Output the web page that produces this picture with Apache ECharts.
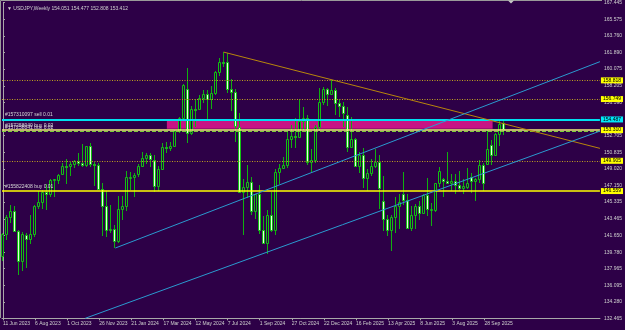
<!DOCTYPE html>
<html><head><meta charset="utf-8">
<script src="https://cdn.jsdelivr.net/npm/echarts@6/dist/echarts.min.js"></script>
<style>html,body{margin:0;padding:0;background:#2d0047;}#c{width:625px;height:330px;}</style>
</head><body><div id="c"></div><script>
// ---- data ----
const symbolName = 'USDJPY,Weekly';
const tickIndex = [0,8,16,24,32,40,48,56,64,72,80,88,96,104,112,120];
const tickDates = ['11 Jun 2023','6 Aug 2023','1 Oct 2023','26 Nov 2023','21 Jan 2024','17 Mar 2024','12 May 2024','7 Jul 2024','1 Sep 2024','27 Oct 2024','22 Dec 2024','16 Feb 2025','13 Apr 2025','8 Jun 2025','3 Aug 2025','28 Sep 2025'];
const priceTicks = [167.445,165.575,163.760,161.890,160.075,158.205,156.390,154.520,152.705,150.835,149.020,147.150,145.335,143.465,141.650,139.780,137.965,136.095,134.280,132.465];
const opens = [139.4,141.8,143.7,144.4,142.1,138.8,141.7,141.2,141.8,144.9,145.4,146.4,146.2,147.8,147.8,148.4,149.35,149.3,149.55,149.85,149.65,149.4,151.5,149.6,149.4,146.8,144.9,142.2,142.4,141.0,144.6,144.9,148.1,148.15,148.4,149.3,150.2,150.5,150.05,147.1,149.0,151.4,151.35,151.6,153.25,154.6,157.9,152.95,155.7,155.6,156.9,157.3,156.75,157.4,159.8,160.9,160.8,157.9,157.5,153.7,146.5,147.0,147.6,144.4,146.2,142.3,140.85,143.95,142.2,148.7,149.15,149.5,152.3,152.7,152.6,154.3,154.7,149.8,150.0,153.6,156.4,157.9,157.3,157.7,156.3,156.0,155.0,151.4,152.3,149.3,150.6,148.0,148.6,149.3,149.8,145.5,143.5,142.2,143.7,144.95,146.2,145.6,142.5,143.9,144.85,144.1,146.1,144.45,144.5,147.4,147.9,147.7,147.4,147.7,147.2,146.9,147.0,148.1,147.7,147.95,149.5,149.6,151.7,150.6,152.9,154.051];
const highs = [141.9,143.87,145.07,144.9,142.2,142.0,141.95,143.88,145.0,146.56,146.64,147.37,147.87,147.95,148.46,149.71,150.16,149.83,150.0,150.78,151.72,151.6,151.92,149.75,149.7,147.45,146.6,144.96,142.8,145.97,146.0,148.8,148.7,148.6,149.6,150.89,150.8,150.8,150.5,149.3,151.86,151.97,151.95,153.3,154.8,158.4,160.2,155.95,156.8,157.2,157.7,157.7,158.2,159.9,161.27,161.95,161.8,159.0,157.85,155.2,147.9,149.4,148.1,146.25,147.2,143.75,144.5,146.5,149.0,149.6,150.3,153.18,153.9,154.7,156.75,155.9,155.0,151.2,153.9,157.93,158.08,158.0,158.87,158.0,156.75,156.4,155.9,154.8,152.4,150.9,151.3,149.0,150.15,151.2,150.5,148.2,143.9,143.9,145.9,146.2,148.65,146.2,144.9,145.1,145.5,146.2,148.0,145.2,147.5,149.2,148.0,150.9,148.5,148.5,148.8,147.9,149.1,148.6,148.0,149.95,149.7,153.27,152.2,153.0,154.45,154.477];
const lows = [138.8,141.1,143.0,142.1,137.24,137.68,138.05,140.7,141.5,144.6,144.55,144.44,145.9,145.91,147.3,148.3,147.3,148.2,149.1,149.3,149.2,149.2,149.2,147.15,146.67,141.6,141.5,141.9,140.25,140.8,143.4,144.3,146.65,145.9,148.1,149.2,149.6,149.2,146.48,146.6,148.9,150.8,151.0,151.5,153.0,154.5,151.86,152.8,153.6,155.5,156.35,154.55,155.7,157.2,159.3,160.3,157.4,155.4,151.95,146.4,141.68,145.8,143.9,143.45,141.75,140.7,139.58,142.0,141.65,147.35,148.95,149.1,151.3,151.3,152.5,153.3,149.5,148.65,149.7,153.2,156.1,156.0,157.25,154.97,154.8,153.7,150.9,151.3,149.25,148.6,146.9,146.54,148.2,149.1,144.55,142.1,141.6,139.89,141.9,142.35,145.0,142.4,142.1,142.4,143.4,144.0,143.8,142.7,144.2,147.0,145.85,147.3,146.6,146.2,146.6,146.2,146.8,146.3,145.5,147.5,146.6,149.4,149.4,150.4,151.55,152.808];
const closes = [141.8,143.7,144.3,142.1,138.8,141.8,141.2,141.75,144.95,145.4,146.4,146.2,147.8,147.85,148.37,149.35,149.3,149.55,149.85,149.65,149.4,151.5,149.6,149.4,146.8,144.9,142.2,142.4,141.0,144.6,144.9,148.1,148.15,148.37,149.3,150.2,150.5,150.1,147.1,149.0,151.4,151.35,151.6,153.25,154.6,158.3,152.95,155.7,155.6,156.9,157.3,156.75,157.4,159.8,160.87,160.75,157.9,157.5,153.75,146.5,147.0,147.6,144.4,146.2,142.3,140.85,143.95,142.2,148.7,149.15,149.5,152.3,152.7,152.6,154.3,154.7,149.8,150.0,153.6,156.4,157.9,157.3,157.7,156.3,156.0,155.2,151.4,152.3,149.3,150.6,148.0,148.6,149.3,149.8,146.9,143.5,142.2,143.7,144.95,145.3,145.6,142.5,143.9,144.85,144.1,146.1,144.6,144.6,147.4,148.8,147.7,147.4,147.7,147.2,146.9,147.1,147.4,147.7,147.95,149.5,147.4,151.2,150.6,152.9,154.0,153.412];
// horizontal levels
const dottedLevels = [158.818, 156.749, 149.905];
const sellLevel = 154.487;
const buyLevel = 153.310;
const dashedLevel = 153.150;
const lowBuyLevel = 146.559;
const orderTexts = ['#157310097 sell 0.01', '#157258040 buy 0.02', '#157258041 buy 0.02', '#155822408 buy 0.01'];
// zone rectangle: [startBar, endBar], [lowPrice, highPrice]
const zoneBars = [40.85, 122.05];
const zonePrices = [153.45, 154.487];
// trend lines: two anchor points each [bar, price]
const resistanceLine = [[55, 161.95], [148.8, 151.29]];
const channelUpper = [[28, 140.25], [148.8, 160.89]];
const channelLower = [[20.5, 132.465], [148.8, 153.2]];

// ---- chart ----
const BG = '#2d0047';
const chart = echarts.init(document.getElementById('c'), null, {renderer:'canvas'});
const last = closes.length - 1;
const candleData = closes.map((c, i) => [i, opens[i], c, lows[i], highs[i]]);
const FONT = 'Liberation Sans';
const boxLabel = (txt, bg) => ({show:true, position:'end', formatter: txt, backgroundColor: bg, color:'#000', fontSize:5, fontFamily:FONT, padding:[1,2,0,2], distance:1});
const textLabel = (txt, dist) => ({show: true, position: 'insideStartTop', formatter: txt, color: '#d8d8d8', fontSize: 5, fontFamily: FONT, distance: dist});
const HIDDEN = {color: 'rgba(0,0,0,0)', width: 0};

chart.setOption({
  backgroundColor: BG,
  animation: false,
  textStyle: {fontFamily: FONT},
  title: {
    text: '\u25BC ' + symbolName + ' ' + [opens[last], highs[last], lows[last], closes[last]].map(v => v.toFixed(3)).join(' '),
    left: 2, top: 1,
    textStyle: {fontSize: 5, color: '#d0d0d0', fontWeight: 'normal', fontFamily: FONT}
  },
  grid: {left: 0, right: 23, top: 1.7, bottom: 11.7},
  xAxis: {
    type: 'value', min: -0.25, max: 148.8,
    axisLine: {show: true, lineStyle: {color: '#a8a8a8', width: 1}},
    axisTick: {show: true, customValues: tickIndex, length: 2, lineStyle: {color: '#a8a8a8'}},
    axisLabel: {customValues: tickIndex, formatter: v => tickDates[tickIndex.indexOf(Math.round(v))] || '',
      align: 'left', fontSize: 5, margin: 3, color: '#cfcfcf', fontFamily: FONT},
    splitLine: {show: false}
  },
  yAxis: {
    type: 'value', position: 'right', min: priceTicks[priceTicks.length-1], max: priceTicks[0],
    axisLine: {show: true, lineStyle: {color: '#a8a8a8', width: 1}},
    axisTick: {show: true, customValues: priceTicks, length: 2, lineStyle: {color: '#a8a8a8'}},
    axisLabel: {customValues: priceTicks, formatter: v => v.toFixed(3), fontSize: 5, margin: 4, color: '#cfcfcf', fontFamily: FONT},
    splitLine: {show: false}
  },
  graphic: [
    {type: 'polyline', silent: true, shape: {points: [[0.5, 318], [0.5, 0.5], [602, 0.5]]}, style: {stroke: '#9a9a9a', fill: null, lineWidth: 1}},
    {type: 'polygon', silent: true, shape: {points: [[508, 0.5], [514, 0.5], [511, 3.5]]}, style: {fill: '#c8c8c8'}}
  ],
  series: [
    {
      type: 'line', data: [], z: 1, silent: true,
      markArea: {silent: true, itemStyle: {color: '#c71585'},
        data: [[{coord: [zoneBars[0], zonePrices[0]]}, {coord: [zoneBars[1], zonePrices[1]]}]]}
    },
    {
      type: 'custom', z: 2, clip: true, data: candleData,
      encode: {x: 0, y: [1, 2, 3, 4]},
      renderItem: function (params, api) {
        const i = api.value(0), o = api.value(1), c = api.value(2), l = api.value(3), h = api.value(4);
        const pO = api.coord([i, o]), pC = api.coord([i, c]), pL = api.coord([i, l]), pH = api.coord([i, h]);
        const cx = Math.round(pO[0]);
        const top = Math.round(Math.min(pO[1], pC[1])) + 0.5;
        const bot = Math.round(Math.max(pO[1], pC[1])) + 0.5;
        const bull = c >= o;
        return {type: 'group', children: [
          {type: 'line', shape: {x1: cx - 0.5, y1: Math.round(pH[1]), x2: cx - 0.5, y2: Math.round(pL[1])},
            style: {stroke: '#10b010', lineWidth: 1}},
          {type: 'rect', shape: {x: cx - 1.5, y: top, width: 2, height: Math.max(bot - top, 1)},
            style: {fill: bull ? BG : '#e4fbe0', stroke: '#12c012', lineWidth: 1}}
        ]};
      }
    },
    {
      type: 'line', data: [], z: 3, silent: true,
      markLine: {
        silent: true, symbol: 'none', animation: false,
        data: [
          ...dottedLevels.map(p => ({yAxis: p, lineStyle: {color: '#c0a020', type: [1, 1.5], width: 1}, label: boxLabel(p.toFixed(3), '#ffff00')})),
          {yAxis: dashedLevel, lineStyle: {color: '#7ccc3a', type: [4, 2], width: 1}, label: {show: false}},
          {yAxis: buyLevel, lineStyle: {color: '#f2f27a', type: 'solid', width: 1.5}, label: boxLabel(buyLevel.toFixed(3), '#ffff00')},
          {yAxis: lowBuyLevel, lineStyle: {color: '#ffff00', type: 'solid', width: 1.5}, label: boxLabel(lowBuyLevel.toFixed(3), '#ffff00')},
          {yAxis: sellLevel, lineStyle: {color: '#00e0f0', type: 'solid', width: 2}, label: boxLabel(sellLevel.toFixed(3), '#00e8f8')},
          [{coord: resistanceLine[0], lineStyle: {color: '#b8860b', width: 1, type: 'solid'}, label: {show: false}}, {coord: resistanceLine[1]}],
          [{coord: channelUpper[0], lineStyle: {color: '#2a9ad0', width: 1, type: 'solid'}, label: {show: false}}, {coord: channelUpper[1]}],
          [{coord: channelLower[0], lineStyle: {color: '#2a9ad0', width: 1, type: 'solid'}, label: {show: false}}, {coord: channelLower[1]}]
        ]
      }
    },
    {
      type: 'line', data: [], z: 4, silent: true,
      markLine: {
        silent: true, symbol: 'none', animation: false,
        data: [
          {yAxis: sellLevel, lineStyle: HIDDEN, label: textLabel(orderTexts[0], [3, 2])},
          {yAxis: buyLevel, lineStyle: HIDDEN, label: textLabel(orderTexts[1], [3, 2])},
          {yAxis: dashedLevel, lineStyle: HIDDEN, label: textLabel(orderTexts[2], [3, 1])},
          {yAxis: lowBuyLevel, lineStyle: HIDDEN, label: textLabel(orderTexts[3], [3, 2])}
        ]
      }
    }
  ]
});
</script></body></html>
